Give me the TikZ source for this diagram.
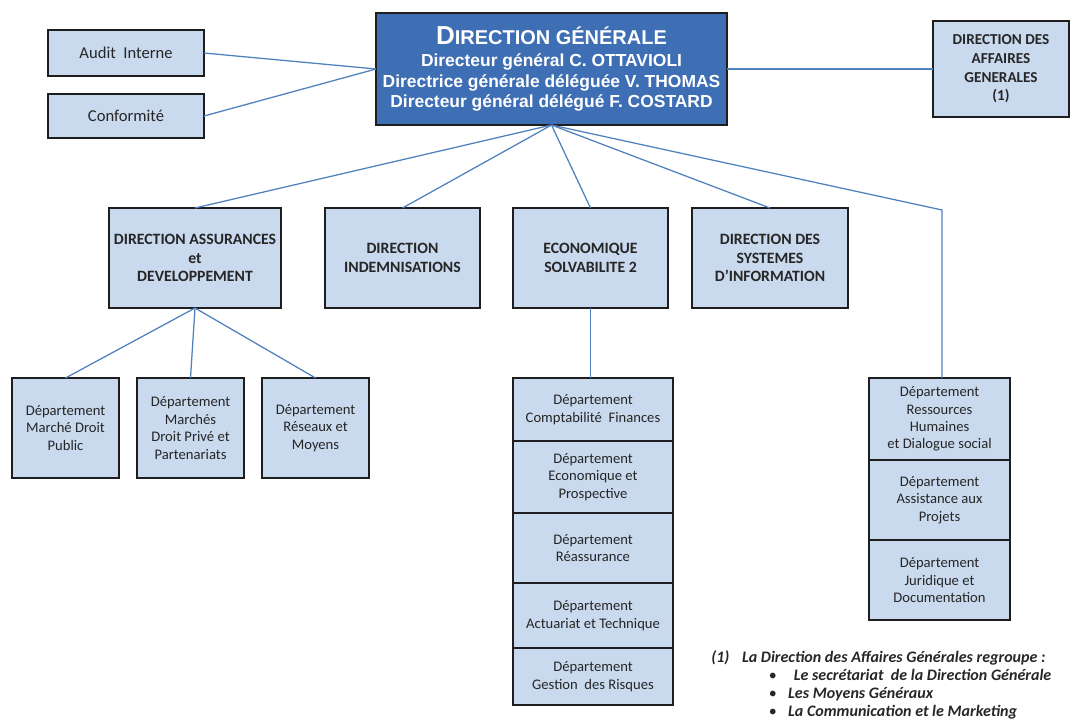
\documentclass[tikz,border=0pt]{standalone}
\usepackage{fontspec}
\setmainfont{Carlito}
\newfontfamily\arialfont{Liberation Sans}
\usetikzlibrary{positioning}

\definecolor{boxfill}{RGB}{201,217,238}
\definecolor{dgfill}{RGB}{62,110,180}
\definecolor{linkblue}{RGB}{79,129,189}
\definecolor{boxline}{RGB}{30,30,30}

\tikzset{
  unit/.style={draw=boxline, line width=1.2pt, fill=boxfill, outer sep=0pt,
    align=center, text=black!85},
  dirbox/.style={unit, minimum height=2.5cm, font=\bfseries\fontsize{11.2}{13.2}\selectfont},
  deptbox/.style={unit, font=\fontsize{10.4}{12.4}\selectfont},
  link/.style={draw=linkblue, line width=0.9pt},
}

\begin{document}
\begin{tikzpicture}[x=0.025cm, y=-0.025cm]
    \useasboundingbox (0,0) rectangle (1079,719);
    % direction generale
    \node[draw=boxline, line width=1.2pt, fill=dgfill, text=white, outer sep=0pt,
      minimum width=8.775cm, minimum height=2.8cm, align=center,
      font=\arialfont\bfseries\fontsize{12.4}{14.6}\selectfont] (dg) at (551.5,69)
      {{\fontsize{18.5}{20}\selectfont D\fontsize{14.2}{20}\selectfont IRECTION GÉNÉRALE}\\[1pt]
       Directeur général C. OTTAVIOLI\\
       Directrice générale déléguée V. THOMAS\\
       Directeur général délégué F. COSTARD};
    \node[unit, minimum width=3.9cm, minimum height=1.15cm, font=\fontsize{11.8}{13}\selectfont] (audit) at (126,53) {Audit\ \ Interne};
    \node[unit, minimum width=3.9cm, minimum height=1.1cm, font=\fontsize{11.8}{13}\selectfont] (conf) at (126,116) {Conformité};
    \node[dirbox, minimum width=3.4cm, minimum height=2.4cm, font=\bfseries\fontsize{10.8}{13.2}\selectfont] (dag) at (1001,69) {DIRECTION DES\\AFFAIRES\\GENERALES\\(1)};
    % directions
    \node[dirbox, minimum width=4.25cm] (das) at (195,258) {DIRECTION ASSURANCES\\et\\DEVELOPPEMENT};
    \node[dirbox, minimum width=3.875cm] (di) at (402.5,258) {DIRECTION\\INDEMNISATIONS};
    \node[dirbox, minimum width=3.875cm] (es) at (590.5,258) {ECONOMIQUE\\SOLVABILITE 2};
    \node[dirbox, minimum width=3.9cm] (dsi) at (770,258) {DIRECTION DES\\SYSTEMES\\D’INFORMATION};
    % departements
    \node[deptbox, minimum width=2.675cm, minimum height=2.5cm] (dmdp) at (65.5,428) {Département\\Marché Droit\\Public};
    \node[deptbox, minimum width=2.675cm, minimum height=2.5cm] (dmdpp) at (190.5,428) {Département\\Marchés\\Droit Privé et\\Partenariats};
    \node[deptbox, minimum width=2.675cm, minimum height=2.5cm] (drm) at (315.5,428) {Département\\Réseaux et\\Moyens};
    \node[deptbox, minimum width=4cm, minimum height=1.575cm, anchor=north] (es1) at (593,378) {Département\\Comptabilité\ \ Finances};
    \node[deptbox, minimum width=4cm, minimum height=1.8cm, below=0pt of es1] (es2) {Département\\Economique et\\Prospective};
    \node[deptbox, minimum width=4cm, minimum height=1.75cm, below=0pt of es2] (es3) {Département\\Réassurance};
    \node[deptbox, minimum width=4cm, minimum height=1.625cm, below=0pt of es3] (es4) {Département\\Actuariat et Technique};
    \node[deptbox, minimum width=4cm, minimum height=1.425cm, below=0pt of es4] (es5) {Département\\Gestion\ \ des Risques};
    \node[deptbox, minimum width=3.525cm, minimum height=2.05cm, anchor=north] (rh1) at (939.5,378) {Département\\Ressources\\Humaines\\et Dialogue social};
    \node[deptbox, minimum width=3.525cm, minimum height=2cm, below=0pt of rh1] (rh2) {Département\\Assistance aux\\Projets};
    \node[deptbox, minimum width=3.525cm, minimum height=2cm, below=0pt of rh2] (rh3) {Département\\Juridique et\\Documentation};
    % liens
    \draw[link] (audit.east) -- (dg.west);
    \draw[link] (conf.east) -- (dg.west);
    \draw[link] (dg.east) -- (dag.west);
    \foreach \d in {das,di,es,dsi}
        \draw[link] (dg.south) -- (\d.north);
    \coordinate (bend) at (942,210);
    \draw[link] (dg.south) -- (bend) -- (bend |- rh1.north);
    \foreach \d in {dmdp,dmdpp,drm}
        \draw[link] (das.south) -- (\d.north);
    \draw[link] (es.south) -- (es.south |- es1.north);
    % note
    \node[anchor=north west, align=left, inner sep=0pt, text=black!85,
      font=\bfseries\itshape\fontsize{11.4}{12.9}\selectfont] (note) at (711,650)
      {(1)\hspace{9pt}La Direction des Affaires Générales regroupe :\\
       \hspace{41pt}{\normalfont\textbullet}\hspace{12pt}Le secrétariat\ \ de la Direction Générale\\
       \hspace{41pt}{\normalfont\textbullet}\hspace{8pt}Les Moyens Généraux\\
       \hspace{41pt}{\normalfont\textbullet}\hspace{8pt}La Communication et le Marketing};
\end{tikzpicture}
\end{document}
